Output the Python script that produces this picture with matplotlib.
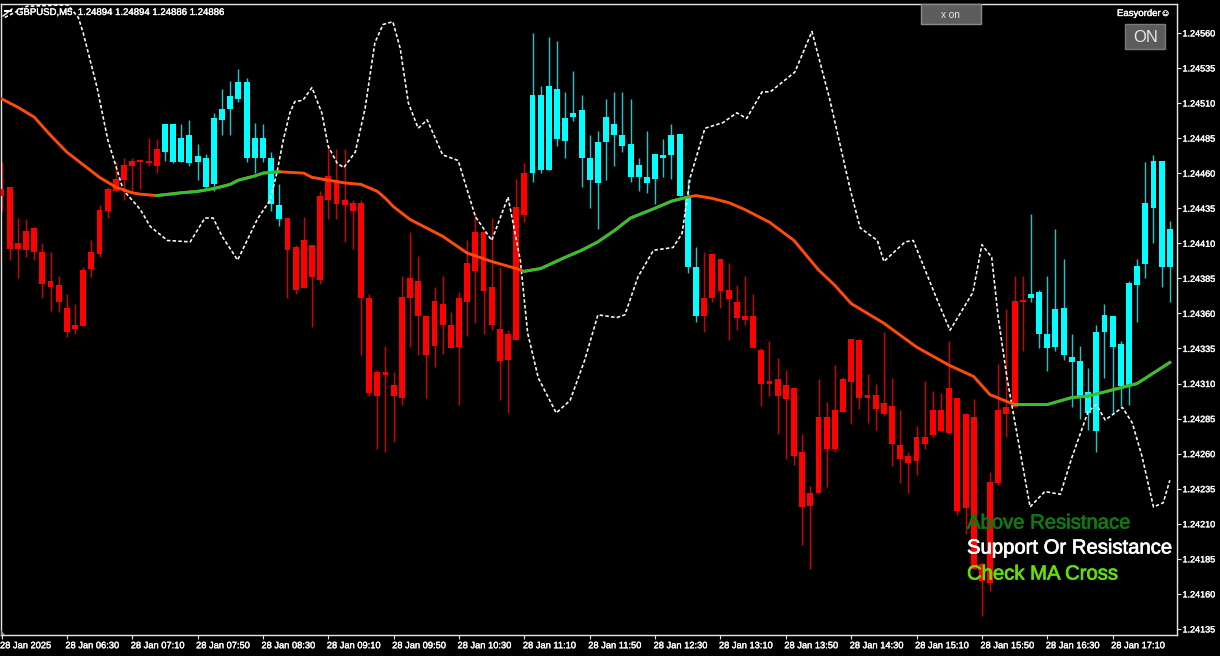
import matplotlib
matplotlib.use("Agg")
import matplotlib.pyplot as plt
import matplotlib.patheffects as pe
from matplotlib.patches import Rectangle, Polygon
from matplotlib.transforms import ScaledTranslation
import numpy as np

# candle values, in 1e-5 above 1.24000
high = [468,450,428,427,421,410,404,387,374,367,393,412,437,450,468,471,471,469,485,484,
        495,495,495,498,481,474,503,520,526,534,528,496,495,475,452,
        428,409,429,409,447,479,477,477,441,441,374,320,337,318,387,418,401,358,379,387,361,375,412,431,418,428,393,348,456,467,
        560,522,557,554,518,533,516,487,490,513,518,518,513,471,490,474,484,495,488,456,407,
        404,403,399,396,380,387,374,335,340,328,320,307,274,237,313,297,323,315,342,342,317,310,347,314,291,261,280,312,305,303,340,300,289,299,183,247,324,363,387,387,
        431,377,387,420,399,345,337,321,352,367,358,340,383,399,468,473,469,426]
body_top = [449,450,410,419,421,404,383,380,364,352,391,404,434,449,456,466,469,469,469,477,
            495,495,485,487,472,471,499,506,515,525,525,485,485,471,437,
            428,407,412,409,444,458,455,441,439,439,371,318,318,309,372,385,383,358,369,367,352,371,396,418,418,379,349,345,436,460,
            516,516,522,520,499,503,505,471,482,500,495,487,481,466,457,474,473,487,488,444,393,
            371,402,399,377,368,358,358,334,312,313,309,307,261,232,286,286,291,313,342,341,302,302,296,294,266,258,272,272,291,291,307,300,288,286,181,240,291,293,369,369,
            374,375,345,363,364,329,326,304,347,359,358,338,382,394,439,469,469,420]
body_bot = [444,406,406,405,404,381,379,368,347,349,351,392,402,433,447,455,465,468,467,465,
            475,468,468,467,468,450,452,498,506,513,471,471,471,438,427,
            405,377,378,386,384,441,438,437,433,371,303,301,316,301,300,371,358,330,337,352,335,336,368,390,376,352,326,327,341,430,
            460,462,462,484,483,500,471,455,453,482,487,479,457,457,453,456,471,473,444,393,358,
            358,371,376,370,357,355,335,310,310,301,299,258,222,223,232,263,263,290,311,300,300,292,288,267,256,253,255,267,273,276,275,219,221,178,169,168,239,288,293,368,
            371,345,335,336,330,325,301,289,276,347,336,308,308,380,395,435,393,393]
low = [433,398,385,400,398,371,362,361,343,345,351,386,400,428,447,441,447,449,465,460,
       469,467,468,465,455,449,447,487,487,511,468,460,468,433,422,
       371,374,378,350,381,427,427,411,406,330,301,263,261,268,295,336,330,300,322,331,335,295,344,353,345,348,298,289,341,425,
       454,460,462,479,471,497,450,435,420,455,465,475,454,447,446,438,457,456,444,389,354,
       347,368,364,341,348,352,335,294,301,274,256,252,195,178,232,236,261,290,281,292,282,277,287,251,239,232,245,263,272,276,275,216,203,178,144,162,238,272,293,333,
       368,335,319,333,327,293,285,277,261,314,288,294,295,354,385,410,379,368]
bull_start = [20, 65, 126]   # first bar of each cyan run
bull_end = [34, 85, 143]     # last bar of each cyan run

# moving average, sampled along the chart
ma_bars = [0,2,4,6,8,10,12,14,16,17,19,22,24,26,28,29,31,32,34,37,38,40,42,44,46,47,48,50,52,54,57,60,63,64,65,66,69,71,73,75,77,80,82,84,85,
           87,89,91,94,97,100,102,104,108,112,116,119,121,124,125,128,131,133,135,137,139,143]
ma_vals = [513,507,500,487,475,466,457,450,446,445,444,446,447,449,452,455,458,460,461,460,457,455,453,452,447,442,436,427,421,415,403,397,392,390,391,392,400,405,411,419,428,435,440,443,444,
           442,439,434,425,412,391,380,367,353,336,323,315,302,295,295,295,300,301,304,307,310,325]
ma_green_from = [19, 64, 124]
ma_green_to = [34, 84, 143]

# white dotted envelope
env_bars = [0.4,3.1,8.1,9.4,10,11.7,13,14.9,17,18.2,20.3,23.1,24.9,25.9,27,28.9,31.3,32.9,33.7,34.5,35.3,35.9,36.9,38,39.2,40,41.1,41.9,
            43.3,44.5,45.7,46.7,47.9,48.8,49.8,51,52.1,54,55.9,58,60,62,63.5,64.4,65.7,67.9,69.6,71.4,73,75.3,76.3,77.9,79.8,82.2,83.3,84.3,
            86.1,88.3,90,91.2,93.1,94.1,97.1,99.2,101.4,103.9,105.1,107.2,108,110.6,111.6,112.7,114.5,116.1,118.9,120,121.2,122,123.1,124.7,
            125.9,127.7,129.6,131,133,134,135.1,137.2,138.4,139.6,141,142.2,143]
env_vals = [571,579,580,571,560,521,484,448,434,422,412,411,428,428,415,398,427,441,460,484,503,511,512,521,503,479,467,464,
            475,506,553,566,568,549,510,492,498,473,469,429,412,443,398,346,314,289,298,327,359,357,359,386,405,407,417,457,
            492,496,503,499,518,518,532,561,512,448,421,412,397,411,412,396,370,348,375,409,400,357,313,261,
            222,233,231,257,290,295,284,293,282,258,222,225,241]

price_ticks = [1.24135,1.24160,1.24185,1.24210,1.24235,1.24260,1.24285,1.24310,1.24335,1.24360,
               1.24385,1.24410,1.24435,1.24460,1.24485,1.24510,1.24535,1.24560]
time_labels = ["28 Jan 2025","28 Jan 06:30","28 Jan 07:10","28 Jan 07:50","28 Jan 08:30","28 Jan 09:10",
               "28 Jan 09:50","28 Jan 10:30","28 Jan 11:10","28 Jan 11:50","28 Jan 12:30","28 Jan 13:10",
               "28 Jan 13:50","28 Jan 14:30","28 Jan 15:10","28 Jan 15:50","28 Jan 16:30","28 Jan 17:10"]
signal_labels = ["Above Resistnace", "Support Or Resistance", "Check MA Cross"]
signal_colors = ["#0e7a0e", "#ffffff", "#62e000"]

W, H = 1220, 656
BASE = 1.24
STEP = 8.17     # pixels per bar


def price(v):
    return BASE + np.array(v) / 1e5


def thick(color, w=0.25):
    return [pe.withStroke(linewidth=w, foreground=color)]


plt.rcParams["font.family"] = ["Liberation Sans", "DejaVu Sans"]

fig = plt.figure(figsize=(W / 100, H / 100), dpi=100, facecolor="black")
left, right, top, bottom = 1, 1177, 4, 635
ax = fig.add_axes([left / W, 1 - bottom / H, (right - left) / W, (bottom - top) / H], facecolor="black")
ax.set_xlim((left - 1.5) / STEP, (right - 1.5) / STEP)
ax.set_ylim(1.24 + 130.7 / 1e5, 1.24 + 580.6 / 1e5)

bars = np.arange(len(high))
is_bull = np.zeros(len(high), dtype=bool)
for a, b in zip(bull_start, bull_end):
    is_bull[a:b + 1] = True

# wicks then bodies
ax.vlines(bars[~is_bull], price(low)[~is_bull], price(high)[~is_bull], color="#d00000", lw=1.0, zorder=2)
ax.vlines(bars[is_bull], price(low)[is_bull], price(high)[is_bull], color="#22c4cc", lw=1.0, zorder=2)
heights = price(body_top) - price(body_bot)
ax.bar(bars, np.maximum(heights, 1.5e-5), bottom=price(body_bot), width=0.72,
       color=["#00ffff" if u else "#ff0000" for u in is_bull], zorder=3)

# dotted line and moving average
ax.plot(env_bars, price(env_vals), color="white", lw=1.15, dashes=(2.2, 1.4), zorder=4, dash_joinstyle="round")
ax.plot(ma_bars, price(ma_vals), color="#ff4a0a", lw=2.1, zorder=5, solid_joinstyle="round")
ma_b = np.array(ma_bars)
ma_v = np.array(ma_vals)
for a, b in zip(ma_green_from, ma_green_to):
    keep = (ma_b >= a) & (ma_b <= b)
    ax.plot(ma_b[keep], price(ma_v[keep]), color="#2fc42f", lw=2.1, zorder=6, solid_joinstyle="round")

# axes
for s in ax.spines.values():
    s.set_color("#e6e6e6")
    s.set_linewidth(1.0)
ax.yaxis.tick_right()
ax.set_yticks(price_ticks)
ax.set_yticklabels([f"{p:.5f}" for p in price_ticks], fontsize=6.5, color="white", path_effects=thick("white"))
ax.set_xticks(np.arange(len(time_labels)) * 8)
ax.set_xticklabels(time_labels, fontsize=6.7, color="white", ha="left", path_effects=thick("white"))
ax.tick_params(axis="y", length=3, width=0.8, color="#e6e6e6", pad=1)
ax.tick_params(axis="x", length=3, width=0.8, color="#e6e6e6", pad=1.5, direction="out")
shift = ScaledTranslation(-1.5 / 100, 0, fig.dpi_scale_trans)
for lab in ax.get_xticklabels():
    lab.set_transform(lab.get_transform() + shift)


# window furniture, placed in figure pixels
def px_text(x, y, s, **kw):
    return fig.text(x / W, 1 - y / H, s, va="center", **kw)


px_text(16, 12, "GBPUSD,M5  1.24894 1.24894 1.24886 1.24886", fontsize=6.9, color="white", ha="left",
        path_effects=thick("white"))
fig.add_artist(plt.Line2D([3 / W, 12 / W], [1 - 16 / H, 1 - 9 / H], color="white", lw=1.0))
fig.add_artist(plt.Line2D([5 / W, 11 / W], [1 - 11 / H, 1 - 11 / H], color="white", lw=1.4))
fig.add_artist(Polygon([(1 / W, 1 - 635 / H), (5 / W, 1 - 635 / H), (1 / W, 1 - 630 / H)], closed=True,
                       transform=fig.transFigure, facecolor="#8a9aa8", edgecolor="none"))

fig.add_artist(Rectangle((921 / W, 1 - 24 / H), 60 / W, 20 / H, transform=fig.transFigure,
                         facecolor="#5c5c5c", edgecolor="#8a8a8a", lw=1))
px_text(950.5, 15, "x on", fontsize=7.2, color="#e8e8e8", ha="center")
fig.add_artist(Rectangle((1125 / W, 1 - 49 / H), 40 / W, 25 / H, transform=fig.transFigure,
                         facecolor="#5c5c5c", edgecolor="#7a7a7a", lw=1))
px_text(1145.5, 37.5, "ON", fontsize=12, color="#e8e8e8", ha="center")
px_text(1117, 13, "Easyorder\u263a", fontsize=6.9, color="white", ha="left", path_effects=thick("white"))

for y, s, c in zip([523, 548, 574], signal_labels, signal_colors):
    px_text(967, y, s, fontsize=14.6, color=c, ha="left", zorder=10, path_effects=thick(c, 0.5))

fig.savefig("out.png", dpi=100, facecolor="black")
